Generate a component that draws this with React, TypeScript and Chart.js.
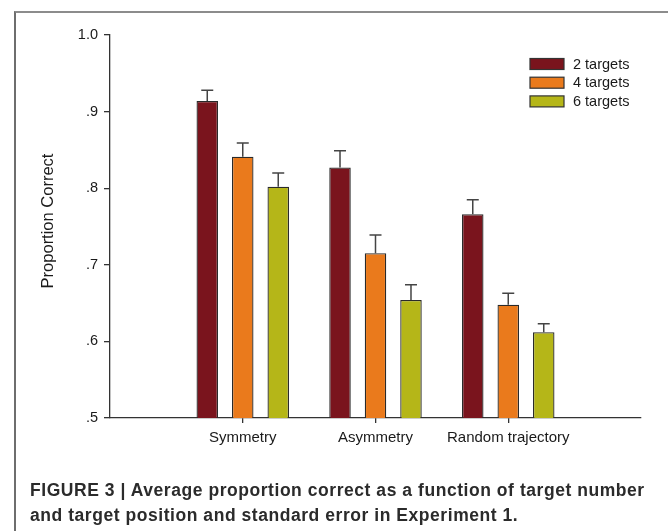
import React, { useEffect, useRef } from "react";
import { Chart, registerables } from "chart.js";

Chart.register(...registerables);

// Conditions on the x axis, with an empty slot at each end of the axis
const conditions = ["Symmetry", "Asymmetry", "Random trajectory"];
const seriesLabels = ["2 targets", "4 targets", "6 targets"];

// Mean proportion correct per condition
const twoTargets = [0.914, 0.827, 0.766];
const fourTargets = [0.841, 0.715, 0.648];
const sixTargets = [0.802, 0.654, 0.612];

// Standard errors (drawn upward only)
const twoTargetsSE = [0.014, 0.022, 0.019];
const fourTargetsSE = [0.018, 0.024, 0.015];
const sixTargetsSE = [0.018, 0.020, 0.011];

const yTicks = [0.5, 0.6, 0.7, 0.8, 0.9, 1.0];
const yTitle = "Proportion Correct";

const seriesColors = ["#7a141d", "#ea7a1c", "#b5b618"];
const FONT = "'Liberation Sans', Arial, Helvetica, sans-serif";
const INK = "#1a1a1a";

const pad = (vals: (number | null)[]) => [null, ...vals, null];

// Upper standard-error whiskers with caps
const errorBarPlugin = {
  id: "errorBars",
  afterDatasetsDraw(chart: any) {
    const { ctx } = chart;
    const yScale = chart.scales.y;
    chart.data.datasets.forEach((ds: any, i: number) => {
      const meta = chart.getDatasetMeta(i);
      meta.data.forEach((bar: any, j: number) => {
        const v = ds.data[j];
        const e = ds.errors[j];
        if (v == null || e == null) return;
        const top = yScale.getPixelForValue(v + e);
        ctx.save();
        ctx.strokeStyle = "#444";
        ctx.lineWidth = 1.5;
        ctx.beginPath();
        ctx.moveTo(bar.x, bar.y);
        ctx.lineTo(bar.x, top);
        ctx.moveTo(bar.x - 6, top);
        ctx.lineTo(bar.x + 6, top);
        ctx.stroke();
        ctx.restore();
      });
    });
  },
};

// Legend block in the upper right of the plot, plus the rotated y-axis title
const annotationPlugin = {
  id: "boxLegend",
  afterDraw(chart: any) {
    const { ctx, chartArea } = chart;
    const boxLeft = chartArea.right - 111;
    const firstTop = chartArea.top + 23.5;
    const rowGap = 18.7;
    ctx.save();
    ctx.font = `14.5px ${FONT}`;
    ctx.textBaseline = "middle";
    ctx.textAlign = "left";
    chart.data.datasets.forEach((ds: any, i: number) => {
      const top = firstTop + i * rowGap;
      ctx.fillStyle = ds.backgroundColor;
      ctx.fillRect(boxLeft, top, 34, 11);
      ctx.strokeStyle = "#333";
      ctx.lineWidth = 1.2;
      ctx.strokeRect(boxLeft, top, 34, 11);
      ctx.fillStyle = INK;
      ctx.fillText(ds.label, boxLeft + 43, top + 6);
    });
    ctx.restore();

    ctx.save();
    ctx.translate(53, chartArea.top + 186);
    ctx.rotate(-Math.PI / 2);
    ctx.font = `16.5px ${FONT}`;
    ctx.fillStyle = INK;
    ctx.textAlign = "center";
    ctx.textBaseline = "alphabetic";
    ctx.fillText(yTitle, 0, 0);
    ctx.restore();
  },
};

export default function App() {
  const canvasRef = useRef<HTMLCanvasElement | null>(null);

  useEffect(() => {
    if (!canvasRef.current) return;
    const values = [twoTargets, fourTargets, sixTargets];
    const errors = [twoTargetsSE, fourTargetsSE, sixTargetsSE];
    const chart = new Chart(canvasRef.current, {
      type: "bar",
      data: {
        labels: ["", ...conditions, ""],
        datasets: seriesLabels.map((label, i) => ({
          label,
          data: pad(values[i]),
          errors: pad(errors[i]),
          backgroundColor: seriesColors[i],
          borderColor: "#2a2a2a",
          borderWidth: 1.3,
          categoryPercentage: 0.802,
          barPercentage: 0.606,
        })) as any,
      },
      options: {
        animation: false,
        responsive: false,
        devicePixelRatio: 1,
        layout: { padding: { top: 35, right: 27, left: 0, bottom: 0 } },
        plugins: {
          legend: { display: false },
          tooltip: { enabled: false },
        },
        scales: {
          x: {
            type: "category",
            offset: false,
            afterFit: (scale: any) => {
              scale.height = 113;
            },
            grid: {
              offset: false,
              drawOnChartArea: false,
              drawTicks: true,
              tickLength: 5,
              tickColor: (c: any) =>
                c.index > 0 && c.index <= conditions.length ? "#333" : "rgba(0,0,0,0)",
              lineWidth: 1.3,
            },
            border: { display: true, color: "#333", width: 1.3 },
            ticks: {
              autoSkip: false,
              maxRotation: 0,
              padding: 6,
              color: INK,
              font: { family: FONT, size: 15 },
            },
          },
          y: {
            min: 0.5,
            max: 1.0,
            afterFit: (scale: any) => {
              scale.width = 110;
            },
            afterBuildTicks: (scale: any) => {
              scale.ticks = yTicks.map((v) => ({ value: v }));
            },
            grid: {
              drawOnChartArea: false,
              drawTicks: true,
              tickLength: 6,
              color: "#333",
              lineWidth: 1.3,
            },
            border: { display: true, color: "#333", width: 1.3 },
            ticks: {
              padding: 6,
              color: INK,
              font: { family: FONT, size: 14.5 },
              callback: (v: any) => {
                const n = Math.round(Number(v) * 10);
                return n === 10 ? "1.0" : "." + n;
              },
            },
          },
        },
      },
      plugins: [errorBarPlugin, annotationPlugin],
    });
    return () => chart.destroy();
  }, []);

  return (
    <div
      style={{
        position: "absolute",
        left: 0,
        top: 0,
        width: 668,
        height: 531,
        background: "#fff",
        overflow: "hidden",
        fontFamily: FONT,
      }}
    >
      <div
        style={{
          position: "absolute",
          left: 14,
          top: 11,
          width: 680,
          height: 560,
          borderTop: "2px solid #8c8c8c",
          borderLeft: "2px solid #6e6e6e",
        }}
      />
      <canvas
        ref={canvasRef}
        width={668}
        height={531}
        style={{ position: "absolute", left: 0, top: 0, width: 668, height: 531 }}
      />
      <div
        style={{
          position: "absolute",
          left: 30,
          top: 478,
          whiteSpace: "nowrap",
          fontSize: 17.5,
          letterSpacing: "0.55px",
          lineHeight: "25px",
          fontWeight: "bold",
          color: "#2b2b2b",
        }}
      >
        FIGURE 3 | Average proportion correct as a function of target number
        <br />
        and target position and standard error in Experiment 1.
      </div>
    </div>
  );
}
